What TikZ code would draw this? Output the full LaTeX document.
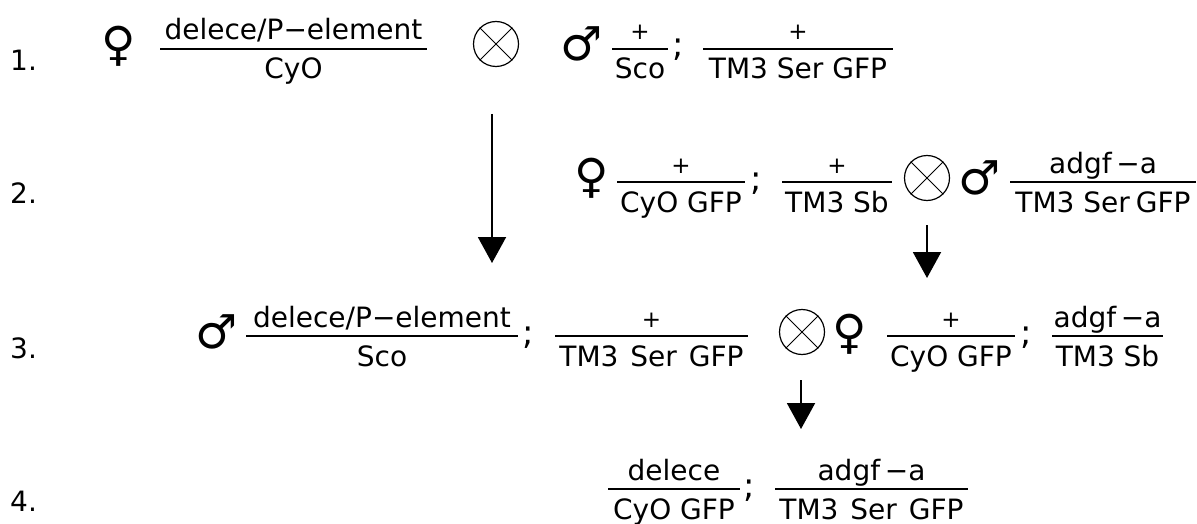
\documentclass[tikz,border=0pt]{standalone}
\usepackage{fontspec}
\setmainfont{DejaVu Sans}
\usetikzlibrary{arrows.meta}
\usetikzlibrary{calc}

\newcommand{\plusallele}{{\fontsize{23}{26}\selectfont +}}
\newcommand{\genofrac}[6]{%
  \coordinate (#1l) at (#2,#4);
  \coordinate (#1r) at (#3,#4);
  \draw[fracbar] (#1l) -- (#1r);
  \node[numer] (#1n) at ($(#1l)!0.5!(#1r)+(0,-9)$) {#5};
  \node[denom] (#1d) at ($(#1l)!0.5!(#1r)+(0,30)$) {#6};
}

\begin{document}
\begin{tikzpicture}[x=1pt, y=-1pt, >={Triangle[width=28pt,length=26pt]},
    font=\fontsize{28}{34}\selectfont,
    fracbar/.style={line width=2pt},
    numer/.style={anchor=base, inner sep=0pt},
    denom/.style={anchor=base, inner sep=0pt},
    sym/.style={inner sep=0pt, font=\fontsize{47}{50}\selectfont},
    semi/.style={anchor=base, inner sep=0pt, font=\fontsize{34}{38}\selectfont},
    rownum/.style={anchor=base west, inner sep=0pt},
    crossop/.style={circle, draw, line width=1.2pt, minimum size=45pt, inner sep=0pt},
    crossline/.style={line width=1pt},
    arr/.style={->, line width=2pt}]

    \useasboundingbox (0,0) rectangle (1197,524);

    % generations
    \node[rownum] (n1) at (10,71) {1.};
    \node[rownum] (n2) at (10,204) {2.};
    \node[rownum] (n3) at (10,358) {3.};
    \node[rownum] (n4) at (10,511) {4.};

    % 1. cross
    \node[sym] (f1) at (119,46) {♀};
    \genofrac{g1}{160}{427}{49}{delece/P−element}{CyO}
    \node[crossop] (x1) at (496,44) {};
    \draw[crossline] (x1.45) -- (x1.225) (x1.135) -- (x1.315);
    \node[sym] (m1) at (582,44) {♂};
    \genofrac{g2}{612}{668}{49}{\plusallele}{Sco}
    \node[semi] (s1) at (678,57) {;};
    \genofrac{g3}{703}{893}{49}{\plusallele}{TM3 Ser GFP}

    % 2. cross
    \node[sym] (f2) at (592,178) {♀};
    \genofrac{g4}{617}{745}{182}{\plusallele}{CyO GFP}
    \node[semi] (s2) at (756,190) {;};
    \genofrac{g5}{782}{892}{182}{\plusallele}{TM3 Sb}
    \node[crossop] (x2) at (927,178) {};
    \draw[crossline] (x2.45) -- (x2.225) (x2.135) -- (x2.315);
    \node[sym] (m2) at (980,178) {♂};
    \genofrac{g6}{1010}{1196}{182}{adgf\,−a}{TM3 Ser\kern6pt GFP}

    % 3. cross
    \node[sym] (m3) at (217,332) {♂};
    \genofrac{g7}{246}{518}{336}{delece/P−element}{Sco}
    \node[semi] (s3) at (528,344) {;};
    \genofrac{g8}{555}{748}{336}{\plusallele}{TM3 \hspace{3pt}Ser \hspace{3pt}GFP}
    \node[crossop] (x3) at (802,332) {};
    \draw[crossline] (x3.45) -- (x3.225) (x3.135) -- (x3.315);
    \node[sym] (f3) at (850,334) {♀};
    \genofrac{g9}{887}{1015}{336}{\plusallele}{CyO GFP}
    \node[semi] (s4) at (1026,344) {;};
    \genofrac{g10}{1052}{1163}{336}{adgf\,−a}{TM3 Sb}

    % 4. offspring
    \genofrac{g11}{608}{740}{489}{delece}{CyO GFP}
    \node[semi] (s5) at (749,497) {;};
    \genofrac{g12}{775}{968}{489}{adgf\,−a}{TM3 \hspace{3pt}Ser \hspace{3pt}GFP}

    % arrows
    \coordinate (a1) at (492,114);
    \coordinate (b1) at (492,263);
    \coordinate (a2) at (927,225);
    \coordinate (b2) at (927,278);
    \coordinate (a3) at (801,380);
    \coordinate (b3) at (801,429);
    \draw[arr] (a1) -- (b1);
    \draw[arr] (a2) -- (b2);
    \draw[arr] (a3) -- (b3);

\end{tikzpicture}
\end{document}
